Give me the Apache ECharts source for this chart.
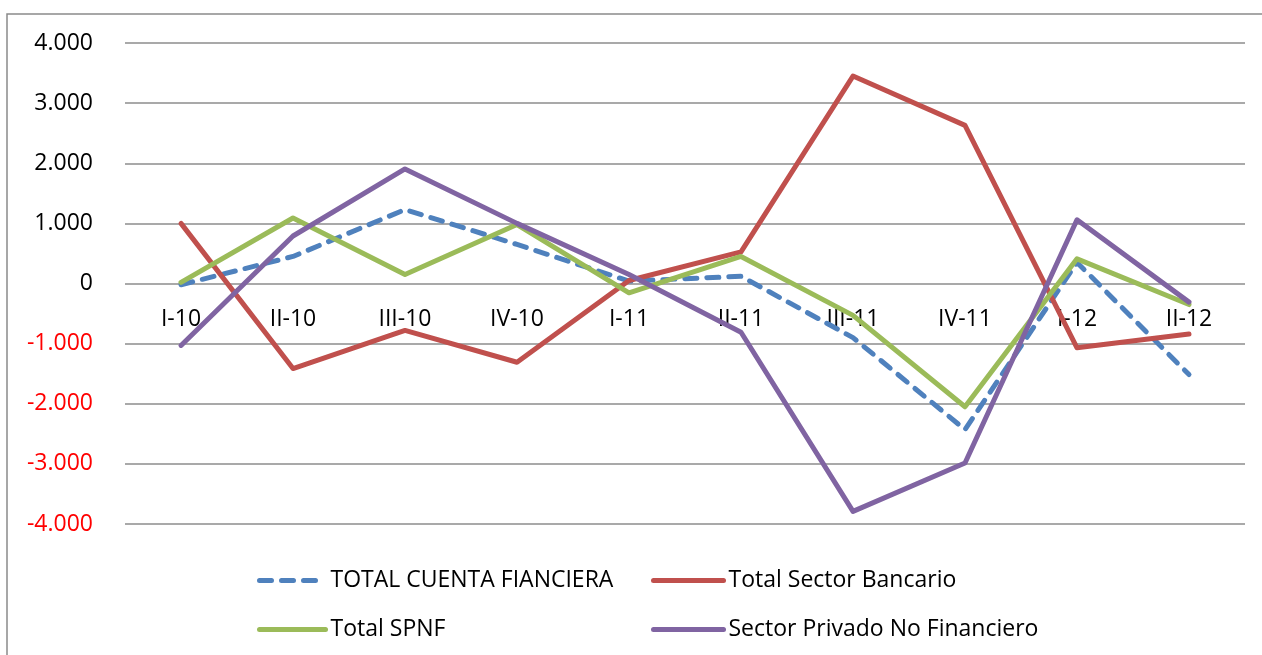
<!DOCTYPE html>
<html><head>
<meta charset="UTF-8">
<title>Cuenta financiera</title>
<script src="https://cdn.jsdelivr.net/npm/echarts@6/dist/echarts.min.js"></script>
<style>
html,body{margin:0;padding:0;background:#fff;}
#chart{width:1262px;height:655px;}
</style>
</head>
<body>
<div id="chart"></div>
<script>
// trimestres
var categorias = ['I-10','II-10','III-10','IV-10','I-11','II-11','III-11','IV-11','I-12','II-12'];
// valores
var totalCuenta   = [-20, 450, 1230, 650, 40, 120, -900, -2430, 350, -1515];
var sectorBanc    = [1000, -1415, -780, -1310, 50, 525, 3450, 2630, -1070, -840];
var totalSpnf     = [20, 1090, 150, 980, -155, 450, -530, -2050, 410, -350];
var privadoNoFin  = [-1030, 790, 1905, 1000, 150, -810, -3790, -2985, 1060, -310];
var nombres = ['TOTAL CUENTA FIANCIERA','Total Sector Bancario','Total SPNF','Sector Privado No Financiero'];

var fuente = '"Open Sans", "Liberation Sans", sans-serif';

function fmtMiles(v){
    var s = Math.abs(v).toString().replace(/\B(?=(\d{3})+(?!\d))/g, '.');
    return (v < 0 ? '-' : '') + s;
}
function linea(nombre, datos, color, tipo){
    return {name: nombre, type: 'line', data: datos, symbol: 'none', showSymbol: false, smooth: false,
        lineStyle: {color: color, width: 5, type: tipo, cap: 'round', join: 'round'},
        itemStyle: {color: color}};
}

var chart = echarts.init(document.getElementById('chart'));
chart.setOption({
    animation: false,
    graphic: [{type: 'rect', shape: {x: 7, y: 14, width: 1400, height: 800},
        style: {fill: 'none', stroke: '#8a8a8a', lineWidth: 1.5}, silent: true}],
    grid: {left: 125, right: 17, top: 43, bottom: 131},
    legend: [
        {orient: 'vertical', left: 252, top: 564, itemWidth: 66, itemHeight: 8, itemGap: 26,
         itemStyle: {opacity: 0}, lineStyle: {width: 5, cap: 'round'},
         textStyle: {fontFamily: fuente, fontSize: 23, color: '#000'},
         data: [nombres[0], nombres[2]]},
        {orient: 'vertical', left: 646, top: 564, itemWidth: 70, itemHeight: 8, itemGap: 26,
         itemStyle: {opacity: 0}, lineStyle: {width: 5, cap: 'round'},
         textStyle: {fontFamily: fuente, fontSize: 23, color: '#000'},
         data: [nombres[1], nombres[3]]}
    ],
    // el eje de categorias se sube hasta la linea del cero
    xAxis: {type: 'category', data: categorias, boundaryGap: true, offset: -240.5,
        axisLine: {show: false, onZero: false},
        axisTick: {show: false},
        axisLabel: {margin: 24, fontFamily: fuente, fontSize: 23, color: '#000'}},
    yAxis: {type: 'value', min: -4000, max: 4000, interval: 1000,
        axisLine: {show: false}, axisTick: {show: false},
        splitLine: {lineStyle: {color: '#8c8c8c', width: 1.5}},
        axisLabel: {margin: 32, fontFamily: fuente, fontSize: 23,
            formatter: fmtMiles,
            color: function(v){ return v < 0 ? '#ff0000' : '#000'; }}},
    series: [
        linea(nombres[0], totalCuenta, '#4f81bd', [12, 10]),
        linea(nombres[1], sectorBanc, '#c0504d', 'solid'),
        linea(nombres[2], totalSpnf, '#9bbb59', 'solid'),
        linea(nombres[3], privadoNoFin, '#8064a2', 'solid')
    ]
});
</script>
</body></html>
